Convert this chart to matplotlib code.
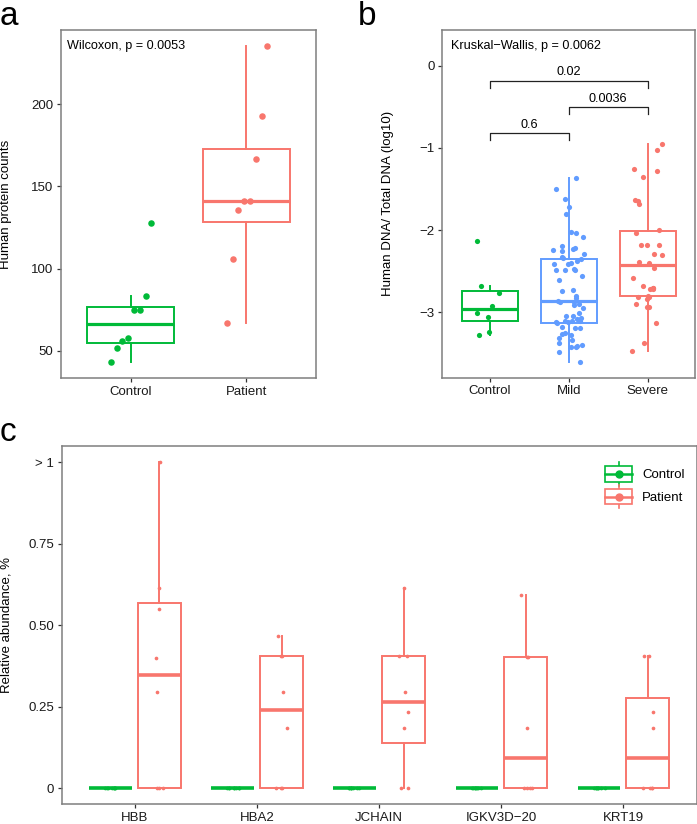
import matplotlib
matplotlib.use("Agg")
import matplotlib.pyplot as plt
import numpy as np
from matplotlib.lines import Line2D
from matplotlib.patches import Rectangle
from matplotlib.legend_handler import HandlerBase

plt.rcParams['font.family'] = ['Liberation Sans', 'DejaVu Sans']

GREEN = "#00BA38"
RED = "#F8766D"
BLUE = "#619CFF"
FRAME = "#7F7F7F"

# panel a
a_groups = ["Control", "Patient"]
a_control = [42.9, 51.8, 55.9, 57.7, 74.6, 74.6, 83.5, 127.9]
a_patient = [66.7, 106.0, 135.8, 140.9, 140.9, 166.4, 193.0, 235.5]
a_test = "Wilcoxon, p = 0.0053"

# panel b
b_groups = ["Control", "Mild", "Severe"]
b_control = [-2.137, -2.676, -2.766, -2.924, -3.005, -3.058, -3.244, -3.277]
b_mild = [-1.363, -1.505, -1.618, -1.715, -1.800, -2.019, -2.031, -2.080, -2.198,
          -2.230, -2.222, -2.255, -2.243, -2.287, -2.323, -2.336, -2.356, -2.397,
          -2.417, -2.373, -2.417, -2.486, -2.486, -2.486, -2.478, -2.563, -2.603,
          -2.733, -2.746, -2.802, -2.827, -2.875, -2.900, -2.875, -2.908, -3.013,
          -3.042, -3.078, -3.074, -3.119, -3.103, -3.103, -3.123, -3.135, -3.192,
          -3.176, -3.188, -3.269, -3.281, -3.249, -3.338, -3.310, -3.378, -3.423,
          -3.415, -3.423, -3.395, -3.488, -3.601, -2.860, -2.950, -3.050, -3.110]
b_severe = [-0.957, -1.030, -1.281, -1.261, -1.354, -1.630, -1.643, -1.679, -1.999,
            -2.040, -2.186, -2.186, -2.186, -2.307, -2.295, -2.384, -2.405, -2.457,
            -2.583, -2.701, -2.681, -2.721, -2.709, -2.713, -2.798, -2.810, -2.815,
            -2.840, -2.900, -2.932, -2.932, -3.131, -3.370, -3.476]
b_test = "Kruskal\u2212Wallis, p = 0.0062"
b_pairs = [(1, 2), (2, 3), (1, 3)]
b_pvals = ["0.6", "0.0036", "0.02"]
b_bracket_y = [-0.823, -0.503, -0.182]

# panel c
c_genes = ["HBB", "HBA2", "JCHAIN", "IGKV3D\u221220", "KRT19"]
c_control = [[0.0] * 8 for _ in range(5)]
c_patient = [
    [0, 0, 0, 0.296, 0.399, 0.551, 0.613, 1.0],
    [0, 0, 0, 0.184, 0.296, 0.405, 0.405, 0.467],
    [0, 0, 0.184, 0.233, 0.296, 0.405, 0.405, 0.614],
    [0, 0, 0, 0, 0.184, 0.403, 0.403, 0.594],
    [0, 0, 0, 0, 0.184, 0.233, 0.405, 0.405],
]
c_yticks = [0, 0.25, 0.5, 0.75, 1.0]
c_yticklabels = ["0", "0.25", "0.50", "0.75", "> 1"]

W, H = 697, 824
fig = plt.figure(figsize=(W / 100, H / 100), dpi=100)


def px_axes(left, top, right, bottom):
    return fig.add_axes([left / W, 1 - bottom / H, (right - left) / W, (bottom - top) / H])


def style(ax):
    for s in ax.spines.values():
        s.set_color(FRAME)
        s.set_linewidth(1.1)
    ax.tick_params(length=3, width=0.9, color="#333333", labelsize=9.5,
                   labelcolor="#1a1a1a", pad=2.5)


def box(ax, vals, pos, color, width, lw=1.4, mlw=2.3):
    bp = ax.boxplot([vals], positions=[pos], widths=width, showfliers=False,
                    whis=1.5, patch_artist=True, manage_ticks=False)
    for b in bp['boxes']:
        b.set_facecolor("white")
        b.set_edgecolor(color)
        b.set_linewidth(lw)
    for w in bp['whiskers']:
        w.set_color(color)
        w.set_linewidth(lw)
    for c in bp['caps']:
        c.set_visible(False)
    for m in bp['medians']:
        m.set_color(color)
        m.set_linewidth(mlw)
        m.set_solid_capstyle("butt")


def ylabel_at(ax, text, xpx):
    # right edge of the rotated y title at a given figure pixel column
    ax.set_ylabel(text, fontsize=9.5)
    left = ax.get_position().x0 * W
    width = ax.get_position().width * W
    ax.yaxis.set_label_coords((xpx - left) / width, 0.5)


# ---- a
ax = px_axes(61, 30, 316, 378)
style(ax)
for i, (vals, col) in enumerate([(a_control, GREEN), (a_patient, RED)]):
    box(ax, vals, i + 1, col, 0.75)
    v = np.sort(vals)
    xs = i + 1 + np.linspace(-0.17, 0.18, len(v))
    ax.scatter(xs, v, s=22, color=col, zorder=3, linewidths=0)
ax.set_xlim(0.4, 2.6)
ax.set_ylim(33.4, 245.2)
ax.set_xticks([1, 2])
ax.set_xticklabels(a_groups)
ax.set_yticks([50, 100, 150, 200])
ylabel_at(ax, "Human protein counts", 12)
ax.text(0.025, 0.955, a_test, transform=ax.transAxes, fontsize=9.1, va="center")
fig.text(0.0, 1 - 25 / H, "a", fontsize=24, va="baseline")

# ---- b
ax = px_axes(442.3, 30, 695, 377.7)
style(ax)
rng = np.random.default_rng(3)
for i, (vals, col) in enumerate([(b_control, GREEN), (b_mild, BLUE), (b_severe, RED)]):
    box(ax, vals, i + 1, col, 0.71)
    xs = i + 1 + rng.uniform(-0.2, 0.2, len(vals))
    ax.scatter(xs, vals, s=14, color=col, zorder=3, linewidths=0)
for (g1, g2), p, yb in zip(b_pairs, b_pvals, b_bracket_y):
    ax.plot([g1, g1, g2, g2], [yb - 0.085, yb, yb, yb - 0.085], color="#222222", lw=0.9)
    ax.text((g1 + g2) / 2, yb + 0.03, p, ha="center", va="bottom", fontsize=9.1)
ax.set_xlim(0.4, 3.6)
ax.set_ylim(-3.796, 0.434)
ax.set_xticks([1, 2, 3])
ax.set_xticklabels(b_groups)
ax.set_yticks([0, -1, -2, -3])
ylabel_at(ax, "Human DNA/ Total DNA (log10)", 394)
ax.text(0.036, 0.955, b_test, transform=ax.transAxes, fontsize=9.1, va="center")
fig.text(358 / W, 1 - 25 / H, "b", fontsize=24, va="baseline")

# ---- c
ax = px_axes(61.7, 446, 696.7, 804.3)
style(ax)
rng = np.random.default_rng(7)
for i in range(len(c_genes)):
    for vals, col, off in [(c_control[i], GREEN, -0.2), (c_patient[i], RED, 0.2)]:
        box(ax, vals, i + 1 + off, col, 0.35, mlw=2.6)
        xs = i + 1 + off + rng.uniform(-0.05, 0.05, len(vals))
        ax.scatter(xs, vals, s=7, color=col, zorder=3, linewidths=0)
ax.set_xlim(0.4, 5.6)
ax.set_ylim(-0.05, 1.05)
ax.set_xticks(range(1, len(c_genes) + 1))
ax.set_xticklabels(c_genes)
ax.set_yticks(c_yticks)
ax.set_yticklabels(c_yticklabels)
ylabel_at(ax, "Relative abundance, %", 12)
fig.text(0.0, 1 - 440.7 / H, "c", fontsize=24, va="baseline")


class BoxHandler(HandlerBase):
    def create_artists(self, legend, orig_handle, xdescent, ydescent, width, height,
                       fontsize, trans):
        col = orig_handle.get_color()
        cx = width / 2 - xdescent
        cy = height / 2 - ydescent
        bw, bh = 20, 11
        arts = [
            Line2D([cx, cx], [cy - bh / 2 - 3, cy + bh / 2 + 3], color=col, lw=1.2),
            Rectangle((cx - bw / 2, cy - bh / 2), bw, bh, facecolor="white",
                      edgecolor=col, lw=1.2),
            Line2D([cx - bw / 2, cx + bw / 2], [cy, cy], color=col, lw=1.8),
            Line2D([cx], [cy], marker="o", markersize=5, color=col, lw=0),
        ]
        for a in arts:
            a.set_transform(trans)
        return arts


handles = [Line2D([], [], color=GREEN), Line2D([], [], color=RED)]
leg = ax.legend(handles, ["Control", "Patient"], loc="upper right",
                bbox_to_anchor=(1.0, 0.975), frameon=False, fontsize=9.5,
                handler_map={Line2D: BoxHandler()}, handlelength=1.6,
                handleheight=1.3, labelspacing=0.6, handletextpad=1.0)

fig.savefig("out.png", dpi=100)
